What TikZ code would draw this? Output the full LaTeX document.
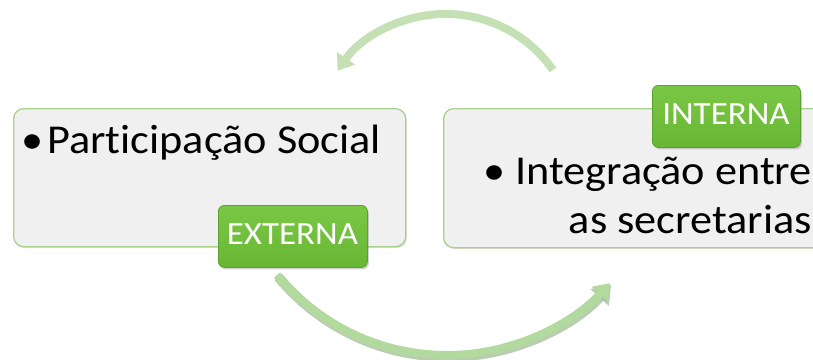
\documentclass[tikz,border=0pt]{standalone}
\usepackage{fontspec}
\setmainfont{Carlito}[Ligatures={NoCommon}, FakeStretch=1.08]
\usetikzlibrary{arrows.meta,shadows}
\definecolor{boxfill}{RGB}{240,240,240}
\definecolor{boxline}{RGB}{169,209,142}
\definecolor{badgetop}{RGB}{122,199,70}
\definecolor{badgebot}{RGB}{104,183,52}
\definecolor{badgeline}{RGB}{90,160,50}
\definecolor{arrowtop}{RGB}{197,224,180}
\definecolor{arrowbot}{RGB}{178,218,158}
\definecolor{arrowedge}{RGB}{140,170,125}
\tikzset{
  panel/.style={draw=boxline, line width=1.3pt, fill=boxfill, rounded corners=10pt,
    anchor=north west, inner sep=0pt,
    drop shadow={shadow xshift=1.2pt, shadow yshift=-1.5pt, opacity=0.25}},
  badge/.style={draw=badgeline, line width=0.8pt, top color=badgetop, bottom color=badgebot,
    rounded corners=6pt, anchor=north west, inner sep=0pt,
    drop shadow={shadow xshift=1.5pt, shadow yshift=-2pt, opacity=0.35}},
  badgetext/.style={text=white, font=\fontsize{32.4}{36}\selectfont, inner sep=0pt, anchor=base},
  maintext/.style={text=black, font=\fontsize{41}{48}\selectfont, inner sep=0pt},
  cyclearrow/.style={line width=8pt, color=arrowtop, -{Triangle[width=21pt,length=15pt]}},
}
\begin{document}
\begin{tikzpicture}[x=1pt,y=-1pt]
\useasboundingbox (0,0) rectangle (813,359);
\clip (0,0) rectangle (813,359);
% arrows
\coordinate (ta) at (553,70);
\draw[cyclearrow] (ta) arc[start angle=34.9, end angle=145.5, radius=131pt];
\coordinate (ba) at (277,275);
\coordinate (bs) at (278.2,276.8);
\draw[line width=10pt, color=arrowedge, opacity=0.6, -{Triangle[width=24pt,length=17pt]}] (bs) arc[start angle=219.6, end angle=317.6, radius=220.6pt];
\draw[cyclearrow, color=arrowbot, line width=8pt] (ba) arc[start angle=219.6, end angle=317.6, radius=220.6pt];
% left panel
\node[panel, minimum width=392pt, minimum height=138pt] (lbox) at (13,108) {};
\node[maintext, anchor=base] (lbul) at (33,153) {•};
\node[maintext, anchor=base west] (ltxt) at (47,153) {Participação Social};
\node[badge, minimum width=149pt, minimum height=62pt] (ext) at (218,205) {};
\node[badgetext] (extt) at (292.5,244) {EXTERNA};
% right panel
\node[panel, minimum width=400pt, minimum height=139pt] (rbox) at (443,108) {};
\node[maintext, anchor=base] (rbul) at (495,184) {•};
\node[maintext, anchor=base east] (rtxt1) at (812,184) {Integração entre};
\node[maintext, anchor=base east] (rtxt2) at (812,233) {as secretarias};
\node[badge, minimum width=148pt, minimum height=62pt] (int) at (652,85) {};
\node[badgetext] (intt) at (726,124) {INTERNA};
\end{tikzpicture}
\end{document}
